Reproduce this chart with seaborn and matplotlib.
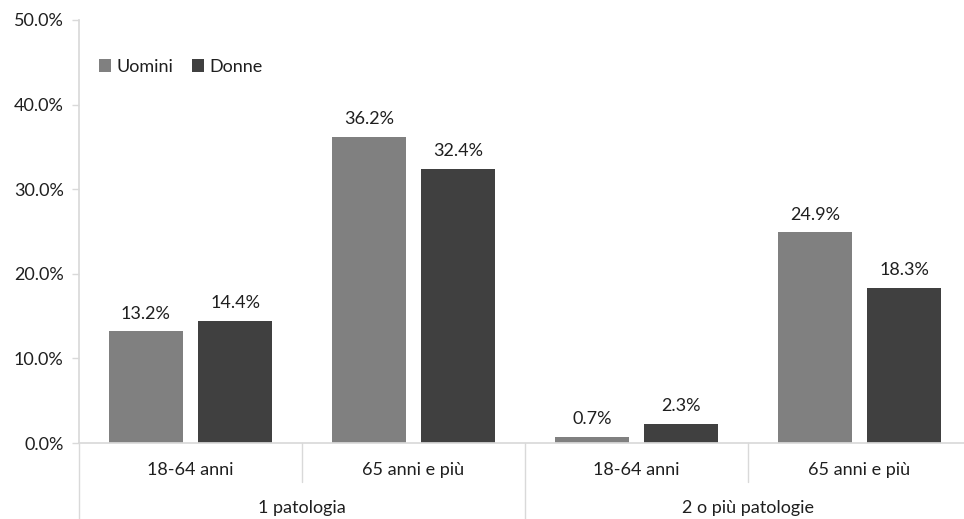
import matplotlib
matplotlib.use("Agg")
import matplotlib.pyplot as plt
import matplotlib.transforms as mtransforms
import pandas as pd
import seaborn as sns

# dati (percentuali)
patologie = ["1 patologia", "2 o più patologie"]
eta = ["18-64 anni", "65 anni e più"]
uomini = [13.2, 36.2, 0.7, 24.9]
donne = [14.4, 32.4, 2.3, 18.3]
sessi = ["Uomini", "Donne"]
colori = ["#808080", "#404040"]

sns.set_theme(style="white")
plt.rcParams["font.family"] = ["Lato", "DejaVu Sans"]
testo = "#1f1f1f"
linea = "#d9d9d9"
fs = 13

# tabella in formato lungo per seaborn
gruppi = [f"{p}|{e}" for p in patologie for e in eta]
df = pd.DataFrame({
    "gruppo": gruppi * 2,
    "valore": uomini + donne,
    "sesso": [sessi[0]] * 4 + [sessi[1]] * 4,
})

fig = plt.figure(figsize=(9.64, 5.19), dpi=100)
ax = fig.add_axes([79 / 964, 1 - 443 / 519, 892 / 964, 423 / 519])

sns.barplot(data=df, x="gruppo", y="valore", hue="sesso", order=gruppi,
            hue_order=sessi, palette=colori, width=0.8, gap=0.17,
            saturation=1, edgecolor="none", ax=ax)

for cont in ax.containers:
    ax.bar_label(cont, fmt="%.1f%%", padding=7, fontsize=fs, color=testo)

ax.set_ylim(0, 50)
ax.set_xlim(-0.5, 3.5)
ax.set_yticks(range(0, 51, 10))
ax.set_yticklabels([f"{v:.1f}%" for v in range(0, 51, 10)])
ax.set_xticks(range(4))
ax.set_xticklabels(eta * 2)
ax.set_xlabel("")
ax.set_ylabel("")
ax.tick_params(axis="y", length=5, width=1, color=linea, labelsize=fs,
               labelcolor=testo, pad=6, left=True)
ax.tick_params(axis="x", length=0, labelsize=fs, labelcolor=testo, pad=14)

for s in ["top", "right"]:
    ax.spines[s].set_visible(False)
ax.spines["left"].set_color(linea)
ax.spines["bottom"].set_color(linea)

# separatori dell'asse a due livelli
trans = mtransforms.blended_transform_factory(ax.transData, ax.transAxes)
for xs, basso in [(-0.5, -0.18), (0.5, -0.092), (1.5, -0.18), (2.5, -0.092)]:
    ax.plot([xs, xs], [0, basso], color=linea, lw=1, transform=trans,
            clip_on=False)
for i, p in enumerate(patologie):
    ax.text(0.5 + 2 * i, -0.154, p, transform=trans, ha="center",
            va="center", fontsize=fs, color=testo)

ax.legend(loc="center left", bbox_to_anchor=(0.012, 0.889), ncol=2,
          frameon=False, fontsize=fs, handlelength=0.7, handleheight=0.7,
          handletextpad=0.3, columnspacing=1.0, borderpad=0,
          labelcolor=testo)

fig.savefig("out.png", dpi=100)
